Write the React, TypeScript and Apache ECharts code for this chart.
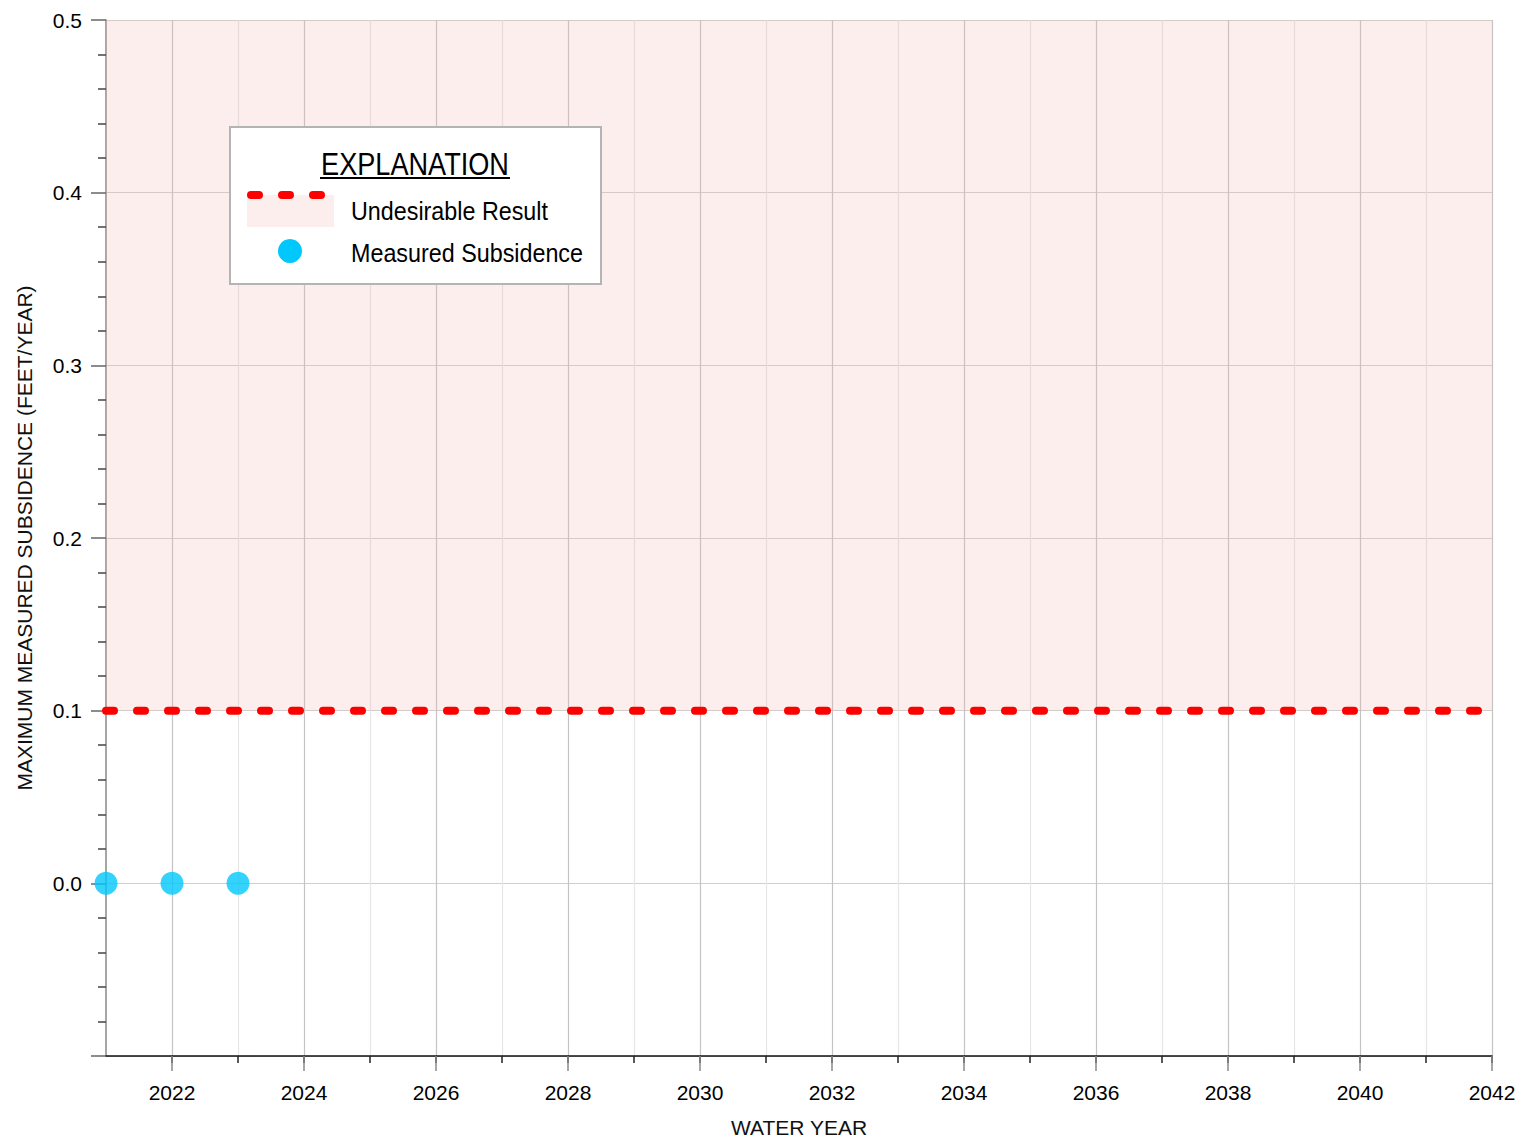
import React, { useEffect, useRef } from "react";
import * as echarts from "echarts";

// ---- data ----
const measuredYears = [2021, 2022, 2023];
const measuredSubsidence = [0.0, 0.0, 0.0];
const thresholdYears = [2021, 2042];
const thresholdValue = 0.1;
const undesirableTop = 0.5;
const allYearTicks = [
  2022, 2023, 2024, 2025, 2026, 2027, 2028, 2029, 2030, 2031, 2032,
  2033, 2034, 2035, 2036, 2037, 2038, 2039, 2040, 2041, 2042,
];
const majorYearTicks = [2022, 2024, 2026, 2028, 2030, 2032, 2034, 2036, 2038, 2040, 2042];
const legendTitle = "EXPLANATION";
const legendLabels = ["Undesirable Result", "Measured Subsidence"];
const xAxisTitle = "WATER YEAR";
const yAxisTitle = "MAXIMUM MEASURED SUBSIDENCE (FEET/YEAR)";

const FONT = '"Liberation Sans", Arial, Helvetica, sans-serif';
const RED = "#ff0000";
const CYAN = "#00c8fc";
const LZ = 100;

export default function App() {
  const ref = useRef<HTMLDivElement>(null);
  useEffect(() => {
    if (!ref.current) return;
    const chart = echarts.init(ref.current, null, { renderer: "svg" });
    const xRange = { min: 2021, max: 2042 };
    const option: any = {
      animation: false,
      backgroundColor: "#ffffff",
      textStyle: { fontFamily: FONT },
      grid: { left: 106, right: 34, top: 20, bottom: 88, containLabel: false, outerBoundsMode: "none" },
      xAxis: [
        {
          type: "value",
          ...xRange,
          interval: 1,
          name: xAxisTitle,
          nameLocation: "middle",
          nameGap: 61,
          nameTextStyle: { fontFamily: FONT, fontSize: 21, color: "#111" },
          axisLine: { show: true, onZero: false, lineStyle: { color: "#111", width: 1.5 } },
          axisTick: { show: true, customValues: allYearTicks, length: 7, lineStyle: { color: "#222", width: 1.5 } },
          axisLabel: {
            customValues: majorYearTicks,
            margin: 26,
            fontFamily: FONT,
            fontSize: 21,
            color: "#000",
            formatter: (v: number) => String(v),
          },
          splitLine: { show: true, lineStyle: { color: ["#c4c4c4", "#e6e6e6"], width: 1.2 } },
        },
        {
          type: "value",
          ...xRange,
          interval: 1,
          position: "bottom",
          axisLine: { show: false, onZero: false },
          axisTick: { show: true, customValues: majorYearTicks, length: 15, lineStyle: { color: "#888", width: 1.5 } },
          axisLabel: { show: false },
          splitLine: { show: false },
        },
      ],
      yAxis: {
        type: "value",
        min: -0.1,
        max: 0.5,
        interval: 0.1,
        name: yAxisTitle,
        nameLocation: "middle",
        nameGap: 71,
        nameRotate: 90,
        nameTextStyle: { fontFamily: FONT, fontSize: 21, color: "#111" },
        axisLine: { show: true, onZero: false, lineStyle: { color: "#888", width: 1.5 } },
        axisTick: { show: true, length: 15, lineStyle: { color: "#666", width: 1.5 } },
        minorTick: { show: true, splitNumber: 5, length: 8, lineStyle: { color: "#444", width: 1.5 } },
        axisLabel: {
          margin: 24,
          fontFamily: FONT,
          fontSize: 21,
          color: "#000",
          formatter: (v: number) => (v < -1e-9 ? "" : v.toFixed(1)),
        },
        splitLine: { show: true, lineStyle: { color: "#cfcfcf", width: 1.2 } },
        minorSplitLine: { show: false },
      },
      series: [
        {
          name: legendLabels[0],
          type: "line",
          xAxisIndex: 0,
          data: thresholdYears.map((y) => [y, thresholdValue]),
          symbol: "none",
          lineStyle: { color: RED, width: 8, type: [8, 23], cap: "round" },
          markArea: {
            silent: true,
            itemStyle: { color: "rgba(245,180,180,0.23)" },
            data: [[{ yAxis: thresholdValue }, { yAxis: undesirableTop }]],
          },
          z: 3,
        },
        {
          name: legendLabels[1],
          type: "scatter",
          xAxisIndex: 0,
          data: measuredYears.map((y, i) => [y, measuredSubsidence[i]]),
          symbol: "circle",
          symbolSize: 23,
          itemStyle: { color: CYAN },
          z: 5,
        },
      ],
      graphic: {
        elements: [
          {
            type: "rect",
            z: LZ,
            shape: { x: 230, y: 127, width: 371, height: 157 },
            style: { fill: "#ffffff", stroke: "#b4b4b4", lineWidth: 2 },
          },
          {
            type: "text",
            z: LZ + 1,
            x: 415,
            y: 164,
            scaleX: 0.875,
            style: { text: legendTitle, fontFamily: FONT, fontSize: 31, fill: "#000", align: "center", verticalAlign: "middle" },
          },
          {
            type: "line",
            z: LZ + 1,
            shape: { x1: 320, y1: 178, x2: 510, y2: 178 },
            style: { stroke: "#000", lineWidth: 2 },
          },
          {
            type: "rect",
            z: LZ + 1,
            shape: { x: 247, y: 195, width: 87, height: 32 },
            style: { fill: "#fdeeee" },
          },
          {
            type: "line",
            z: LZ + 2,
            shape: { x1: 251, y1: 195, x2: 325, y2: 195 },
            style: { stroke: RED, lineWidth: 8, lineDash: [8, 23], lineCap: "round" },
          },
          {
            type: "text",
            z: LZ + 1,
            x: 351,
            y: 210,
            scaleX: 0.88,
            style: { text: legendLabels[0], fontFamily: FONT, fontSize: 26.5, fill: "#000", align: "left", verticalAlign: "middle" },
          },
          {
            type: "circle",
            z: LZ + 1,
            shape: { cx: 290, cy: 251, r: 12 },
            style: { fill: CYAN },
          },
          {
            type: "text",
            z: LZ + 1,
            x: 351,
            y: 252,
            scaleX: 0.88,
            style: { text: legendLabels[1], fontFamily: FONT, fontSize: 26.5, fill: "#000", align: "left", verticalAlign: "middle" },
          },
        ],
      },
    };
    chart.setOption(option);
    return () => chart.dispose();
  }, []);
  return (
    <div
      ref={ref}
      style={{ position: "absolute", left: 0, top: 0, width: 1526, height: 1144, background: "#fff" }}
    />
  );
}
